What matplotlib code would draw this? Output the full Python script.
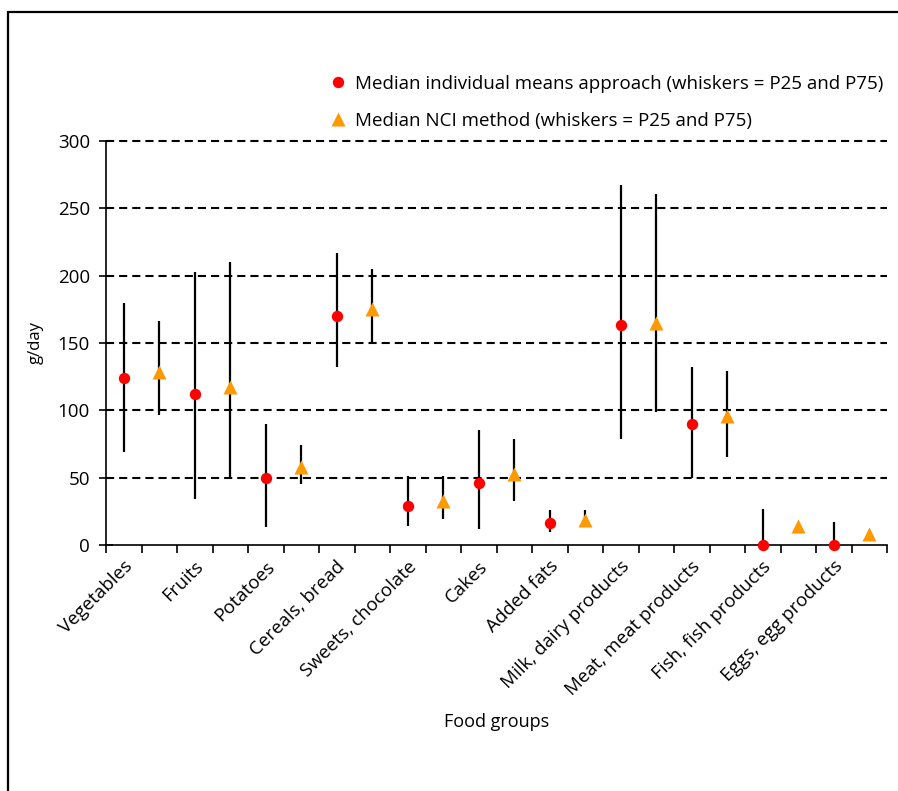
import matplotlib
matplotlib.use("Agg")
from matplotlib import pyplot as plt
from matplotlib.lines import Line2D
from matplotlib.patches import Rectangle
import matplotlib.transforms as mtransforms
import numpy as np

plt.rcParams['font.family'] = ['Open Sans', 'DejaVu Sans']

groups = ['Vegetables', 'Fruits', 'Potatoes', 'Cereals, bread', 'Sweets, chocolate',
          'Cakes', 'Added fats', 'Milk, dairy products', 'Meat, meat products',
          'Fish, fish products', 'Eggs, egg products']

# individual means approach: median, P25, P75
imm_med = [124, 112.5, 50, 170, 29, 46, 16.5, 163, 90, 0, 0]
imm_p25 = [69, 34, 13, 132, 14, 12, 10, 78.5, 49.5, 0, 0]
imm_p75 = [180, 203, 90, 216.5, 51, 85.5, 26, 267, 132, 27, 17]

# NCI method: median, P25, P75
nci_med = [128.5, 117, 58, 175, 33, 53, 18.5, 164.5, 96, 14, 8.5]
nci_p25 = [96.5, 50, 45, 149, 19.5, 32.5, 13, 99, 65, 12, 7]
nci_p75 = [166, 210, 74, 205, 51, 78.5, 26, 260.5, 129.5, 15, 10]

fig = plt.figure(figsize=(8.98, 7.91), dpi=100)
ax = fig.add_axes([106 / 898, 1 - 545 / 791, 781 / 898, 404 / 791])

n = len(groups)
x_imm = np.arange(n) * 2 + 0.5
x_nci = np.arange(n) * 2 + 1.5

red = '#FF0000'
orange = '#FF9900'

for v in range(50, 301, 50):
    ax.axhline(v, color='black', lw=1.5, ls=(0, (3.9, 2.4)), zorder=1, clip_on=False)

ax.vlines(x_imm, imm_p25, imm_p75, color='black', lw=1.6, zorder=3)
ax.vlines(x_nci, nci_p25, nci_p75, color='black', lw=1.6, zorder=3)
ax.plot(x_imm, imm_med, 'o', color=red, ms=8.2, mec='none', zorder=4, clip_on=False)
ax.plot(x_nci, nci_med, '^', color=orange, ms=9.5, mec='none', zorder=4, clip_on=False)

ax.set_xlim(0, 2 * n)
ax.set_ylim(0, 300)
ax.set_yticks(range(0, 301, 50))

# tick marks at every slot boundary, group name at the centre of each pair
tick_labels = [''] * (2 * n + 1)
for i, g in enumerate(groups):
    tick_labels[2 * i + 1] = g
ax.set_xticks(np.arange(0, 2 * n + 1))
ax.set_xticklabels(tick_labels, rotation=45, ha='right', va='center',
                   rotation_mode='anchor', fontsize=13.5)
ax.tick_params(axis='x', direction='out', length=5.5, width=1.2, pad=8)
ax.tick_params(axis='y', direction='inout', length=10, width=1.2, labelsize=13.5, pad=6.5)

shift = mtransforms.ScaledTranslation(-12 / 100, 0, fig.dpi_scale_trans)
for lab in ax.get_xticklabels():
    lab.set_transform(lab.get_transform() + shift)

for side in ['top', 'right']:
    ax.spines[side].set_visible(False)
ax.spines['left'].set_linewidth(1.2)
ax.spines['bottom'].set_linewidth(1.2)

ax.set_ylabel('g/day', fontsize=12, labelpad=10)
ax.set_xlabel('Food groups', fontsize=13, labelpad=10)

handles = [
    Line2D([], [], marker='o', color=red, ls='none', ms=8.2, mec='none'),
    Line2D([], [], marker='^', color=orange, ls='none', ms=9.5, mec='none'),
]
labels = ['Median individual means approach (whiskers = P25 and P75)',
          'Median NCI method (whiskers = P25 and P75)']
fig.legend(handles, labels, loc='upper left', bbox_to_anchor=(329 / 898, 1 - 75 / 791),
           frameon=False, fontsize=13.5, handlelength=1.0, handletextpad=0.4,
           labelspacing=1.0, borderpad=0, borderaxespad=0)

fig.patches.append(Rectangle((7.5 / 898, -0.2), 1.2, 1.2 - 11.5 / 791,
                             transform=fig.transFigure, fill=False,
                             edgecolor='black', lw=1.6))

fig.savefig('out.png', dpi=100)
